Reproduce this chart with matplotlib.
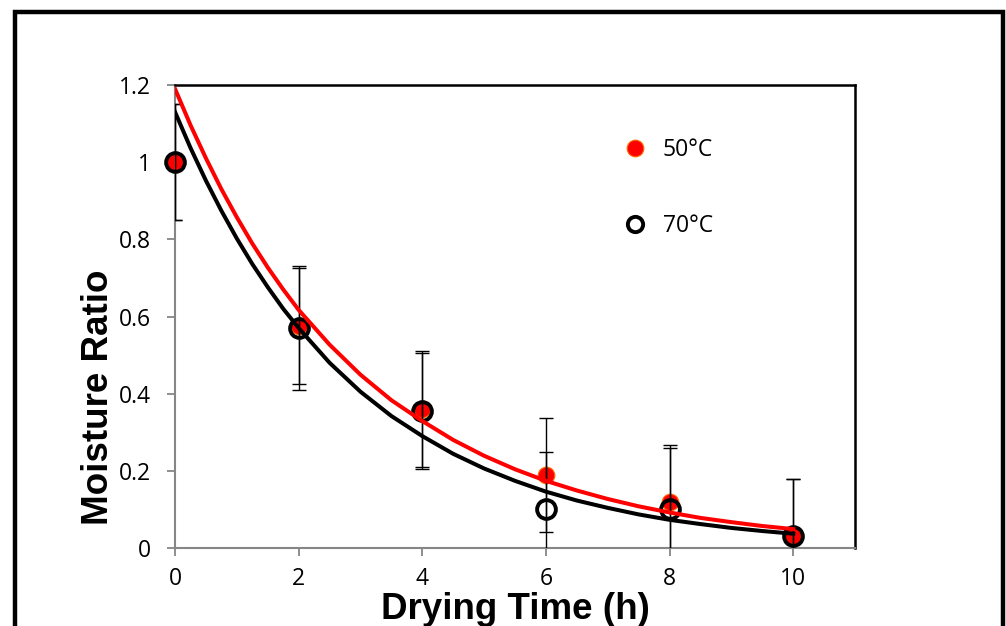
import matplotlib
matplotlib.use("Agg")
import matplotlib.pyplot as plt
from matplotlib.lines import Line2D
from matplotlib.patches import Rectangle

# 측정 데이터
time_h = [0, 2, 4, 6, 8, 10]
mr_50 = [1.0, 0.575, 0.36, 0.19, 0.12, 0.03]
mr_70 = [1.0, 0.57, 0.355, 0.10, 0.10, 0.03]
err_50 = [0.15, 0.15, 0.15, 0.148, 0.147, 0.148]
err_70 = [0.15, 0.16, 0.15, 0.15, 0.16, 0.15]

# 모델 곡선
fit_x = [0, 0.25, 0.5, 0.75, 1, 1.25, 1.5, 1.75, 2, 2.5, 3, 3.5, 4, 4.5, 5, 5.5, 6,
         6.5, 7, 7.5, 8, 8.5, 9, 9.5, 10]
fit_50 = [1.19, 1.096, 1.010, 0.930, 0.857, 0.789, 0.727, 0.670, 0.617, 0.527, 0.449,
          0.383, 0.329, 0.280, 0.239, 0.204, 0.174, 0.149, 0.127, 0.108, 0.092, 0.078,
          0.067, 0.057, 0.049]
fit_70 = [1.13, 1.037, 0.952, 0.874, 0.802, 0.736, 0.676, 0.620, 0.570, 0.480, 0.405,
          0.342, 0.290, 0.244, 0.206, 0.174, 0.146, 0.123, 0.104, 0.087, 0.073, 0.062,
          0.052, 0.044, 0.037]

x_ticks = [0, 2, 4, 6, 8, 10]
y_ticks = [0, 0.2, 0.4, 0.6, 0.8, 1.0, 1.2]
y_tick_labels = ["0", "0.2", "0.4", "0.6", "0.8", "1", "1.2"]

fig = plt.figure(figsize=(10.06, 6.26), dpi=100)
fig.patch.set_facecolor("white")
ax = fig.add_axes([0.174, 0.1246, 0.676, 0.7396])

# 바깥 테두리
fig.patches.append(Rectangle((0.015, -0.05), 0.982, 1.031, transform=fig.transFigure,
                             fill=False, edgecolor="black", linewidth=3.2, zorder=0))

ax.plot(time_h, mr_50, "o", color="red", markeredgecolor="#ff6a00",
        markersize=12, markeredgewidth=0.8, zorder=3, clip_on=False)
ax.plot(time_h, mr_70, "o", markerfacecolor="none", markeredgecolor="black",
        markersize=13.5, markeredgewidth=2.8, zorder=4, clip_on=False)

ax.errorbar(time_h, mr_50, yerr=err_50, fmt="none", ecolor="black",
            elinewidth=1.0, capsize=5, capthick=1.0, zorder=5)
ax.errorbar(time_h, mr_70, yerr=err_70, fmt="none", ecolor="black",
            elinewidth=1.0, capsize=5, capthick=1.0, zorder=5)

ax.plot(fit_x, fit_50, color="red", linewidth=2.9, zorder=6)
ax.plot(fit_x, fit_70, color="black", linewidth=2.9, zorder=6)

ax.set_xlim(0, 11)
ax.set_ylim(0, 1.2)
ax.set_xticks(x_ticks)
ax.set_yticks(y_ticks)
ax.set_yticklabels(y_tick_labels)
ax.tick_params(axis="both", direction="out", length=5.5, width=1.3, color="#868686",
               labelsize=16.5)
ax.tick_params(axis="y", pad=12)
ax.tick_params(axis="x", pad=8)
for lab in ax.get_xticklabels() + ax.get_yticklabels():
    lab.set_family("Open Sans")

for side in ["left", "bottom"]:
    ax.spines[side].set_color("#868686")
    ax.spines[side].set_linewidth(1.5)
for side in ["top", "right"]:
    ax.spines[side].set_color("black")
    ax.spines[side].set_linewidth(1.8)

ax.set_xlabel("Drying Time (h)", fontsize=26.5, fontweight="bold",
              family="Liberation Sans")
ax.set_ylabel("Moisture Ratio", fontsize=26.5, fontweight="bold",
              family="Liberation Sans")
ax.xaxis.set_label_coords(0.5, -0.096)
ax.yaxis.set_label_coords(-0.087, 0.326)

handles = [
    Line2D([], [], linestyle="none", marker="o", color="red", markeredgecolor="#ff6a00",
           markersize=12, markeredgewidth=0.8),
    Line2D([], [], linestyle="none", marker="o", markerfacecolor="none",
           markeredgecolor="black", markersize=11, markeredgewidth=2.8),
]
ax.legend(handles, ["50°C", "70°C"], loc="upper left", bbox_to_anchor=(0.626, 0.931),
          frameon=False, prop={"family": "Open Sans", "size": 16.5}, labelspacing=2.3,
          handletextpad=0.6, handlelength=1.2)

fig.savefig("out.png", dpi=100)
